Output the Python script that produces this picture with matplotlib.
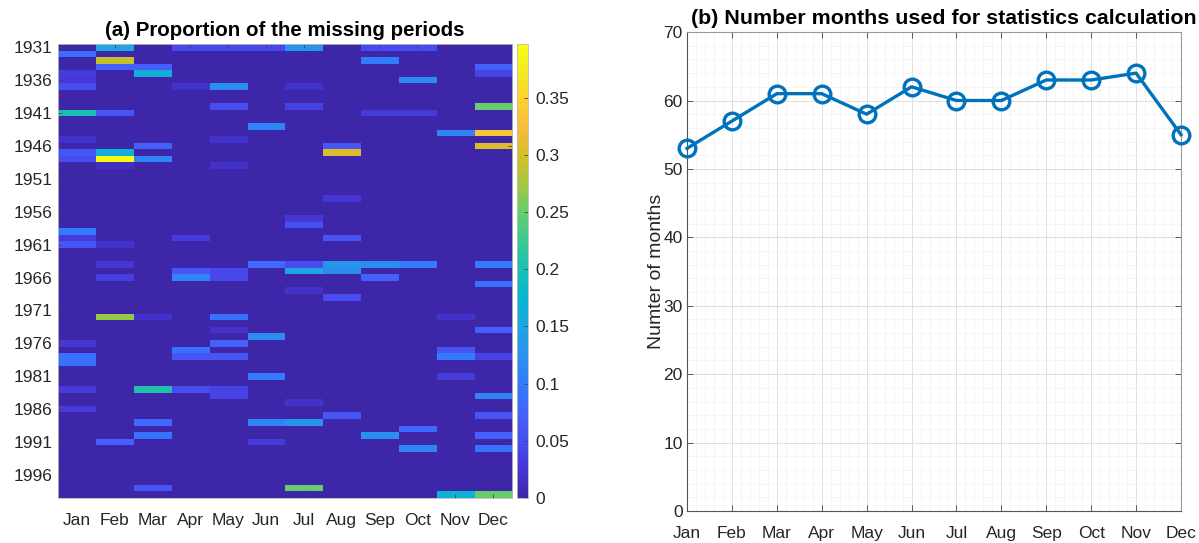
import matplotlib
matplotlib.use("Agg")
import matplotlib.pyplot as plt
from matplotlib.colors import LinearSegmentedColormap
from matplotlib.ticker import MultipleLocator, FuncFormatter
import numpy as np

plt.rcParams['font.family'] = ['Liberation Sans', 'DejaVu Sans']

# parula-like colormap (every 4th entry of the 64-step table)
parula = LinearSegmentedColormap.from_list('parula', [
    (0.2422, 0.1504, 0.6603), (0.2706, 0.2147, 0.8364), (0.2813, 0.3006, 0.9414),
    (0.2699, 0.3892, 0.9906), (0.1963, 0.4847, 0.9892), (0.1687, 0.5703, 0.9359),
    (0.1248, 0.6459, 0.8883), (0.0297, 0.7082, 0.8163), (0.0964, 0.7500, 0.7120),
    (0.2161, 0.7843, 0.5923), (0.3909, 0.8029, 0.4354), (0.6174, 0.7876, 0.2612),
    (0.8203, 0.7498, 0.1535), (0.9728, 0.7298, 0.2394), (0.9892, 0.8136, 0.1885),
    (0.9597, 0.9135, 0.1423), (0.9769, 0.9839, 0.0805)], N=256)

months = ['Jan', 'Feb', 'Mar', 'Apr', 'May', 'Jun',
          'Jul', 'Aug', 'Sep', 'Oct', 'Nov', 'Dec']
years = np.arange(1931, 2000)

# proportion of missing days, (year, value); all other years are 0
jan = [(1932, .085), (1935, .03), (1936, .025), (1937, .05), (1941, .20), (1945, .02),
       (1947, .06), (1948, .05), (1959, .10), (1960, .03), (1961, .06), (1976, .025),
       (1978, .09), (1979, .09), (1983, .03), (1986, .03)]
feb = [(1931, .15), (1933, .29), (1934, .07), (1941, .06), (1947, .165), (1948, .397),
       (1949, .015), (1961, .02), (1964, .025), (1966, .035), (1972, .27), (1991, .07)]
mar = [(1934, .07), (1935, .165), (1946, .07), (1948, .11), (1972, .02), (1983, .205),
       (1988, .08), (1990, .09), (1998, .06)]
apr = [(1931, .045), (1937, .02), (1960, .03), (1965, .06), (1966, .11), (1977, .09),
       (1978, .06), (1983, .05)]
may = [(1931, .045), (1937, .12), (1940, .05), (1945, .02), (1949, .02), (1965, .045),
       (1966, .045), (1972, .09), (1974, .02), (1976, .07), (1978, .06), (1983, .04),
       (1984, .04)]
jun = [(1931, .045), (1943, .11), (1964, .08), (1975, .12), (1981, .10), (1988, .11),
       (1991, .03)]
jul = [(1931, .13), (1937, .02), (1940, .04), (1957, .025), (1958, .055), (1964, .05),
       (1965, .15), (1968, .02), (1985, .02), (1988, .13), (1998, .25)]
aug = [(1946, .06), (1947, .305), (1954, .025), (1960, .06), (1964, .13), (1965, .12),
       (1969, .05), (1987, .06)]
sep = [(1931, .05), (1933, .10), (1941, .03), (1964, .12), (1966, .07), (1990, .12)]
oct_ = [(1931, .05), (1936, .12), (1941, .03), (1964, .10), (1989, .08), (1992, .11)]
nov = [(1944, .11), (1972, .02), (1977, .06), (1978, .10), (1981, .03), (1999, .17)]
dec = [(1934, .07), (1935, .04), (1940, .25), (1944, .335), (1946, .305), (1964, .10),
       (1967, .09), (1974, .07), (1978, .04), (1984, .11), (1987, .06), (1990, .07),
       (1992, .09), (1999, .25)]

# number of months used for the statistics, per calendar month
n_months = [53, 57, 61, 61, 58, 62, 60, 60, 63, 63, 64, 55]

grid = np.zeros((len(years), 12))
for m, cells in enumerate([jan, feb, mar, apr, may, jun, jul, aug, sep, oct_, nov, dec]):
    for yr, v in cells:
        grid[yr - years[0], m] = v

txt = '#262626'
fig = plt.figure(figsize=(11.99, 5.43), dpi=100)

# (a) heatmap
ax1 = fig.add_axes([0.0484, 0.0829, 0.3787, 0.836])
im = ax1.imshow(grid, aspect='auto', cmap=parula, vmin=0, vmax=grid.max(),
                interpolation='nearest')
ax1.set_xticks(range(12))
ax1.set_xticklabels(months)
ax1.set_yticks(range(0, len(years), 5))
ax1.set_yticklabels(years[::5])
ax1.tick_params(direction='in', length=3, width=0.6, colors='#444444',
                labelcolor=txt, labelsize=12.5, top=True, right=True, pad=4)
ax1.tick_params(axis='x', pad=11)
for s in ax1.spines.values():
    s.set_color('#bbbbbb')
    s.set_linewidth(0.6)
ax1.set_title('(a) Proportion of the missing periods', fontsize=14.8,
              fontweight='bold', pad=6)

cax = fig.add_axes([0.4312, 0.0829, 0.0092, 0.836])
cb = fig.colorbar(im, cax=cax)
cb.set_ticks(np.arange(0, 0.36, 0.05))
cb.ax.yaxis.set_major_formatter(FuncFormatter(lambda v, p: '%g' % round(v, 2)))
cb.ax.tick_params(direction='in', length=3, width=0.6, colors='#444444',
                  labelcolor=txt, labelsize=12.5, pad=5)
cb.outline.set_edgecolor('#bbbbbb')
cb.outline.set_linewidth(0.6)

# (b) line chart
ax2 = fig.add_axes([0.573, 0.0589, 0.412, 0.882])
x = np.arange(1, 13)
ax2.plot(x, n_months, '-o', color='#0072BD', lw=2.4, ms=12, mfc='none',
         mew=2.4, clip_on=False, zorder=3)
ax2.set_xlim(1, 12)
ax2.set_ylim(0, 70)
ax2.set_xticks(x)
ax2.set_xticklabels(months)
ax2.yaxis.set_major_locator(MultipleLocator(10))
ax2.xaxis.set_minor_locator(MultipleLocator(0.2))
ax2.yaxis.set_minor_locator(MultipleLocator(2))
ax2.grid(which='major', color='#e0e0e0', lw=0.7)
ax2.grid(which='minor', color='#f4f4f4', lw=0.6)
ax2.set_axisbelow(True)
ax2.tick_params(which='major', direction='in', length=4, width=0.7, colors='#555555',
                labelcolor=txt, labelsize=12.5, top=True, right=True, pad=3)
ax2.tick_params(axis='x', which='major', pad=11)
ax2.tick_params(which='minor', length=0)
for k, s in ax2.spines.items():
    s.set_linewidth(0.8)
    s.set_color('#555555' if k in ('left', 'bottom') else '#999999')
ax2.set_ylabel('Numter of months', fontsize=14, color=txt, labelpad=-1)
ax2.set_title('(b) Number months used for statistics calculation', fontsize=15.4,
              fontweight='bold', pad=6, x=0.52)

fig.savefig('out.png', dpi=100)
